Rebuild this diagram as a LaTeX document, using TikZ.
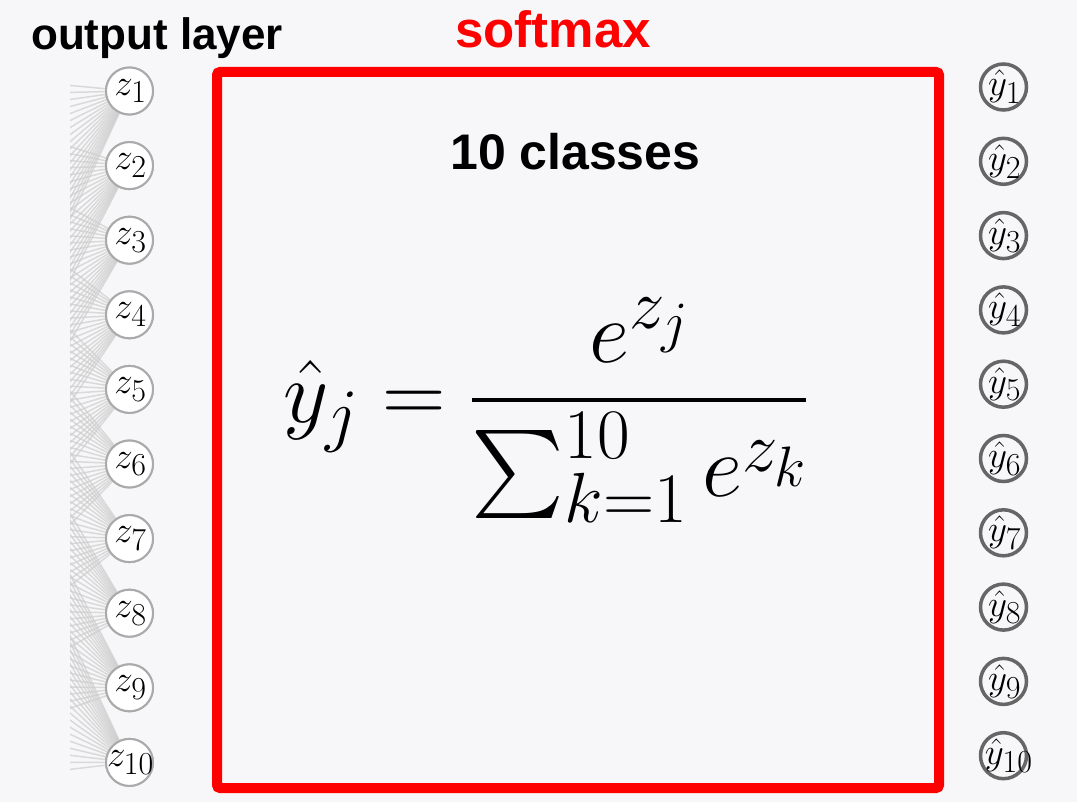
\RequirePackage{fix-cm}
\documentclass[tikz,border=0pt]{standalone}
\usepackage{fontspec}
\DeclareFontShape{OMX}{cmex}{m}{n}{<-> cmex10}{}
\newfontfamily\arial{Liberation Sans}
\DeclareMathSizes{88}{88}{71}{57}
\DeclareMathSizes{37}{37}{32}{25}
\definecolor{bgc}{RGB}{247,247,249}
\definecolor{zline}{RGB}{170,170,170}
\definecolor{yline}{RGB}{102,102,102}
\definecolor{hline}{RGB}{205,205,205}
\tikzset{
  zc/.style={circle, draw=zline, line width=2pt, fill=white, minimum size=47pt, inner sep=0pt},
  yc/.style={circle, draw=yline, line width=3.5pt, minimum size=46pt, inner sep=0pt},
  lab/.style={inner sep=0pt, font=\fontsize{37}{44}\selectfont},
  title/.style={inner sep=0pt, anchor=base west, font=\arial\bfseries\fontsize{44}{54}\selectfont},
  conn/.style={draw=hline, line width=1.5pt, opacity=0.7},
  redbox/.style={draw=red, line width=10pt, rounded corners=3pt}
}
\begin{document}
\begin{tikzpicture}[x=1pt, y=-1pt]
\useasboundingbox (0,0) rectangle (1077,802);
\fill[bgc] (0,0) rectangle (1077,802);
% output layer nodes
\foreach \i in {1,...,10} {
  \node[zc] (z\i) at (129.5, {91+74.6*(\i-1)}) {};
}
% hidden coordinates (off picture)
\foreach \h in {0,...,19} {
  \coordinate (h\h) at (-200, {60+\h*39});
}
\begin{scope}
  \clip (70,0) rectangle (200,802);
  \foreach \h in {0,...,19} {
    \foreach \i in {1,...,10} {
      \draw[conn] (h\h) -- (z\i);
    }
  }
\end{scope}
% redraw circles on top
\foreach \i in {1,...,10} {
  \node[zc] at (z\i) {};
  \node[lab] at ([xshift=1pt]z\i) {$z_{\i}$};
}
% y-hat nodes
\foreach \i in {1,...,10} {
  \node[yc] (y\i) at (1003.5, {87+74.3*(\i-1)}) {};
}
\foreach \i in {1,...,9} {
  \node[lab] at ([xshift=1pt]y\i) {$\hat{y}_{\i}$};
}
\node[lab, anchor=west] at ([xshift=6pt]y10.west) {$\hat{y}_{10}$};
% titles
\node[title] (tout) at (31,50) {output layer};
\node[title, text=red, font=\arial\bfseries\fontsize{51}{60}\selectfont] (tsoft) at (455,48) {softmax};
% red box
\draw[redbox] (217,72) rectangle (939,788);
\node[title, font=\arial\bfseries\fontsize{50}{60}\selectfont] (tcls) at (450,170) {10 classes};
% formula
\node[inner sep=0pt, anchor=base west, font=\fontsize{88}{106}\selectfont] (formula) at (283,422)
  {$\displaystyle \hat{y}_j = \frac{e^{z_j}}{\sum_{k=1}^{10} e^{z_k}}$};
\end{tikzpicture}
\end{document}
